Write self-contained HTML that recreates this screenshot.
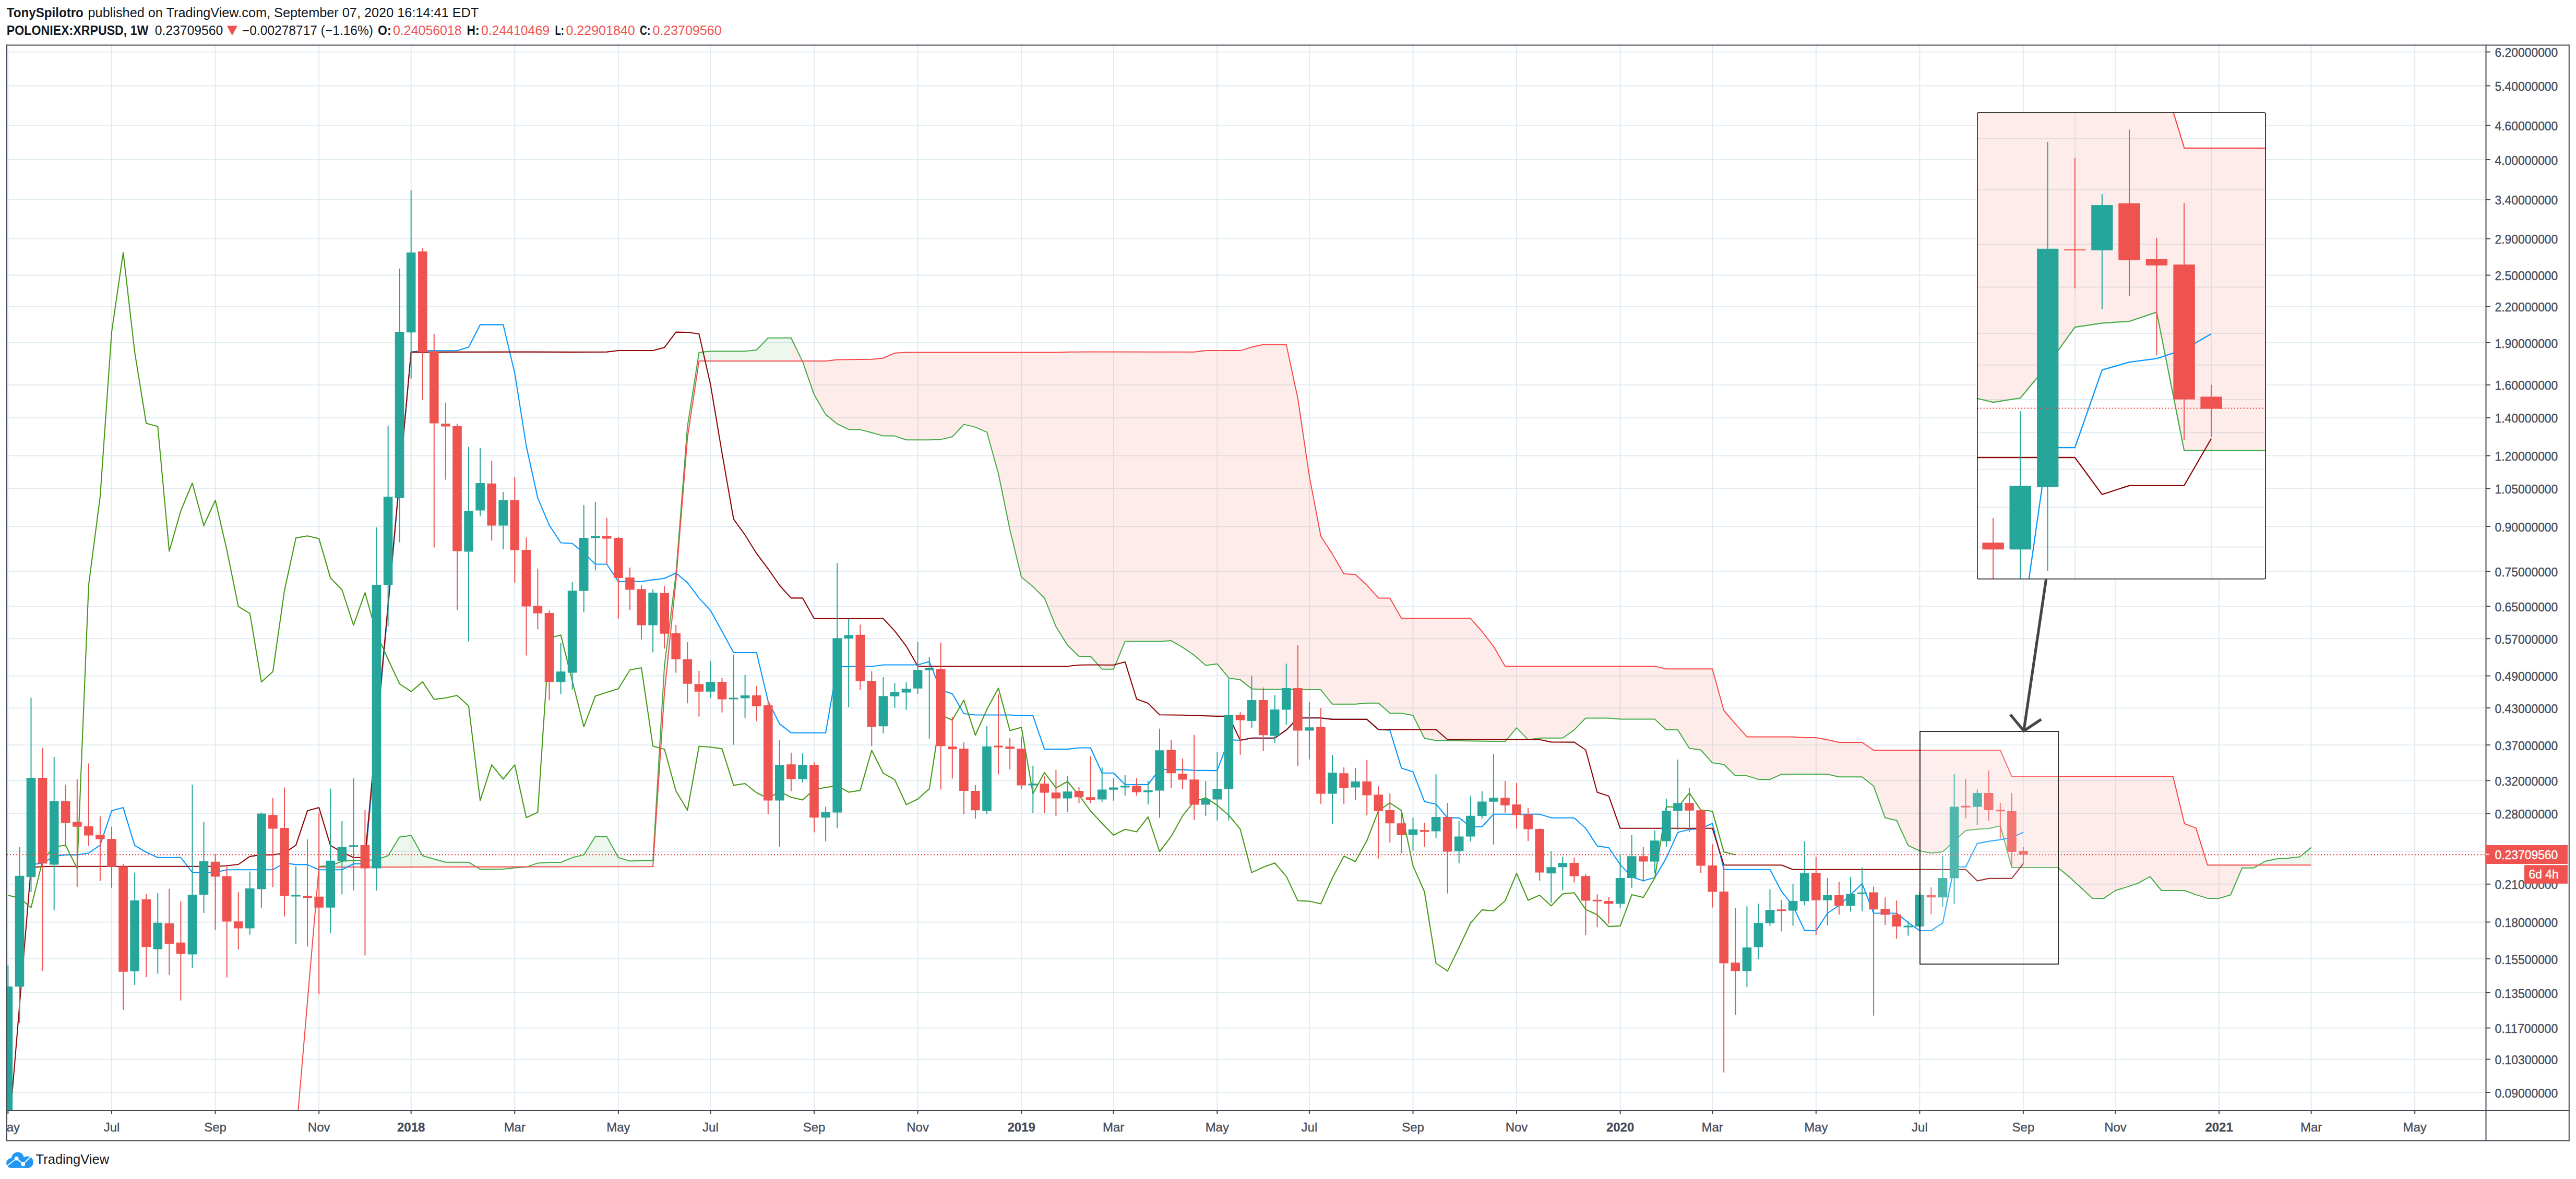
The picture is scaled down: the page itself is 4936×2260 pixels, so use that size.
<!DOCTYPE html>
<html><head><meta charset="utf-8"><title>XRPUSD chart</title>
<style>html,body{margin:0;padding:0;background:#fff}svg{display:block}</style></head>
<body><svg width="4936" height="2260" viewBox="0 0 4936 2260">
<rect width="4936" height="2260" fill="#fff"/>
<path d="M13 99.5H4763.5M13 164.6H4763.5M13 240.2H4763.5M13 306.0H4763.5M13 382.6H4763.5M13 457.6H4763.5M13 527.5H4763.5M13 587.8H4763.5M13 656.9H4763.5M13 737.8H4763.5M13 800.8H4763.5M13 873.4H4763.5M13 936.3H4763.5M13 1009.0H4763.5M13 1094.9H4763.5M13 1162.3H4763.5M13 1224.2H4763.5M13 1295.5H4763.5M13 1357.1H4763.5M13 1427.9H4763.5M13 1496.3H4763.5M13 1559.2H4763.5M13 1631.9H4763.5M13 1694.8H4763.5M13 1767.5H4763.5M13 1837.9H4763.5M13 1903.0H4763.5M13 1970.5H4763.5M13 2030.5H4763.5M13 2094.1H4763.5M15.4 86.5V2129M214.0 86.5V2129M412.6 86.5V2129M611.2 86.5V2129M787.7 86.5V2129M986.3 86.5V2129M1184.9 86.5V2129M1361.4 86.5V2129M1560.0 86.5V2129M1758.6 86.5V2129M1957.2 86.5V2129M2133.7 86.5V2129M2332.3 86.5V2129M2508.9 86.5V2129M2707.5 86.5V2129M2906.0 86.5V2129M3104.6 86.5V2129M3281.2 86.5V2129M3479.8 86.5V2129M3678.4 86.5V2129M3876.9 86.5V2129M4053.5 86.5V2129M4252.1 86.5V2129M4428.6 86.5V2129M4627.2 86.5V2129" stroke="#e1ecf2" stroke-width="2" fill="none"/>
<clipPath id="cp"><rect x="14" y="87.5" width="4749" height="2041"/></clipPath>
<g clip-path="url(#cp)">
<polygon points="611.2,1660.8 633.2,1659.5 655.3,1651.0 677.4,1649.3 699.4,1649.3 721.5,1648.0 743.6,1640.3 765.6,1604.4 787.7,1601.5 809.8,1640.3 831.8,1646.7 853.9,1652.7 876.0,1652.7 898.0,1652.7 898.0,1661.7 876.0,1661.7 853.9,1661.8 831.8,1661.8 809.8,1661.8 787.7,1661.9 765.6,1661.9 743.6,1661.9 721.5,1661.9 699.4,1662.0 677.4,1662.0 655.3,1662.0 633.2,1662.1 611.2,1662.1" fill="#4caf50" fill-opacity="0.1"/>
<polygon points="898.0,1652.7 920.1,1666.4 942.2,1666.1 964.2,1665.9 986.3,1663.4 1008.4,1662.1 1008.4,1661.6 986.3,1661.6 964.2,1661.6 942.2,1661.7 920.1,1661.7 898.0,1661.7" fill="#f44336" fill-opacity="0.1"/>
<polygon points="1008.4,1662.1 1030.4,1654.4 1052.5,1653.1 1074.6,1653.1 1096.6,1643.8 1118.7,1638.6 1140.8,1603.2 1162.8,1604.1 1184.9,1643.8 1207.0,1650.6 1229.0,1649.7 1251.1,1649.7 1273.2,1275.7 1295.2,1100.7 1317.3,817.2 1339.4,675.4 1361.4,673.3 1383.5,673.3 1405.6,673.3 1427.6,673.3 1449.7,670.8 1471.8,647.7 1493.8,647.7 1515.9,647.7 1515.9,692.1 1493.8,692.1 1471.8,692.1 1449.7,692.1 1427.6,692.1 1405.6,692.1 1383.5,692.1 1361.4,692.1 1339.4,692.1 1317.3,838.6 1295.2,1113.5 1273.2,1327.4 1251.1,1661.3 1229.0,1661.3 1207.0,1661.3 1184.9,1661.4 1162.8,1661.4 1140.8,1661.4 1118.7,1661.4 1096.6,1661.5 1074.6,1661.5 1052.5,1661.5 1030.4,1661.6 1008.4,1661.6" fill="#4caf50" fill-opacity="0.1"/>
<polygon points="1515.9,647.7 1538.0,693.4 1560.0,756.6 1582.1,794.6 1604.2,812.5 1626.2,823.2 1648.3,823.6 1670.3,829.2 1692.4,835.6 1714.5,835.6 1736.5,843.3 1758.6,843.3 1780.7,843.3 1802.7,842.4 1824.8,837.3 1846.9,813.4 1868.9,818.9 1891.0,828.3 1913.1,907.7 1935.1,1015.3 1957.2,1106.2 1979.3,1124.6 2001.3,1146.4 2023.4,1201.2 2045.5,1236.7 2067.5,1258.0 2089.6,1258.0 2111.7,1282.8 2133.7,1282.8 2155.8,1229.4 2177.9,1229.4 2199.9,1229.4 2222.0,1229.4 2244.1,1228.1 2266.1,1240.9 2288.2,1255.9 2310.3,1275.5 2332.3,1272.5 2354.4,1299.4 2376.5,1302.9 2398.5,1320.4 2420.6,1321.6 2442.7,1321.6 2464.7,1321.6 2486.8,1321.9 2508.9,1322.1 2530.9,1322.1 2553.0,1349.8 2575.1,1349.8 2597.1,1349.8 2619.2,1347.7 2641.3,1347.7 2663.3,1366.9 2685.4,1367.3 2707.5,1371.2 2729.5,1415.2 2751.6,1419.4 2773.7,1419.7 2795.7,1420.1 2817.8,1420.4 2839.8,1420.7 2861.9,1421.1 2884.0,1421.6 2906.0,1395.1 2928.1,1418.1 2950.2,1414.7 2972.2,1414.7 2994.3,1414.7 3016.4,1399.1 3038.4,1376.5 3060.5,1376.5 3082.6,1376.5 3104.6,1378.6 3126.7,1378.6 3148.8,1378.6 3170.8,1378.6 3192.9,1399.1 3215.0,1399.1 3237.0,1434.5 3259.1,1437.5 3281.2,1462.3 3303.2,1465.3 3325.3,1487.1 3347.4,1487.1 3369.4,1493.9 3391.5,1493.9 3413.6,1484.1 3435.6,1484.1 3457.7,1484.1 3479.8,1484.1 3501.8,1484.1 3523.9,1489.2 3546.0,1489.2 3568.0,1489.2 3590.1,1506.7 3612.2,1567.8 3634.2,1572.5 3656.3,1620.7 3678.4,1631.0 3700.4,1635.2 3722.5,1632.7 3744.6,1612.6 3766.6,1592.1 3788.7,1589.5 3810.8,1588.3 3832.8,1583.1 3854.9,1663.0 3876.9,1663.0 3899.0,1663.0 3921.1,1663.0 3943.1,1663.0 3965.2,1680.9 3987.3,1701.4 4009.3,1721.9 4031.4,1721.9 4053.5,1707.0 4075.5,1700.1 4097.6,1692.9 4119.7,1680.1 4141.7,1707.0 4163.8,1707.0 4185.9,1707.0 4207.9,1715.1 4230.0,1721.9 4252.1,1721.9 4274.1,1715.5 4296.2,1663.8 4318.3,1663.8 4318.3,1658.3 4296.2,1658.3 4274.1,1658.3 4252.1,1658.3 4230.0,1658.3 4207.9,1587.4 4185.9,1578.9 4163.8,1488.3 4141.7,1488.3 4119.7,1488.3 4097.6,1488.3 4075.5,1488.3 4053.5,1488.3 4031.4,1488.3 4009.3,1488.3 3987.3,1488.3 3965.2,1488.3 3943.1,1488.3 3921.1,1488.3 3899.0,1488.3 3876.9,1488.3 3854.9,1488.3 3832.8,1438.0 3810.8,1438.0 3788.7,1438.0 3766.6,1438.0 3744.6,1438.0 3722.5,1438.0 3700.4,1438.0 3678.4,1438.0 3656.3,1438.0 3634.2,1438.0 3612.2,1438.0 3590.1,1438.0 3568.0,1423.0 3546.0,1423.0 3523.9,1423.0 3501.8,1418.0 3479.8,1414.0 3457.7,1414.0 3435.6,1412.4 3413.6,1412.4 3391.5,1412.4 3369.4,1412.4 3347.4,1412.4 3325.3,1387.7 3303.2,1362.0 3281.2,1282.2 3259.1,1282.2 3237.0,1282.2 3215.0,1282.2 3192.9,1282.2 3170.8,1277.1 3148.8,1277.1 3126.7,1277.1 3104.6,1277.1 3082.6,1277.1 3060.5,1277.1 3038.4,1277.1 3016.4,1277.1 2994.3,1277.1 2972.2,1277.1 2950.2,1277.1 2928.1,1277.1 2906.0,1277.1 2884.0,1277.1 2861.9,1239.1 2839.8,1210.5 2817.8,1185.3 2795.7,1185.3 2773.7,1185.3 2751.6,1185.3 2729.5,1185.3 2707.5,1185.3 2685.4,1185.3 2663.3,1146.4 2641.3,1146.4 2619.2,1121.6 2597.1,1101.2 2575.1,1099.9 2553.0,1061.9 2530.9,1027.7 2508.9,912.9 2486.8,763.5 2464.7,660.6 2442.7,660.6 2420.6,660.6 2398.5,665.3 2376.5,672.1 2354.4,672.1 2332.3,672.1 2310.3,672.1 2288.2,674.7 2266.1,674.7 2244.1,674.7 2222.0,674.7 2199.9,674.6 2177.9,674.6 2155.8,674.6 2133.7,674.6 2111.7,674.6 2089.6,674.6 2067.5,674.6 2045.5,674.7 2023.4,675.5 2001.3,675.5 1979.3,675.5 1957.2,675.5 1935.1,675.5 1913.1,675.5 1891.0,675.5 1868.9,675.5 1846.9,675.5 1824.8,675.5 1802.7,675.5 1780.7,675.5 1758.6,675.5 1736.5,675.4 1714.5,676.7 1692.4,686.5 1670.3,688.7 1648.3,689.1 1626.2,689.3 1604.2,689.5 1582.1,692.1 1560.0,692.1 1538.0,692.1 1515.9,692.1" fill="#f44336" fill-opacity="0.1"/>
<polygon points="4318.3,1663.8 4340.3,1651.0 4362.4,1646.3 4384.5,1645.0 4406.5,1642.5 4428.6,1624.6 4428.6,1658.3 4406.5,1658.3 4384.5,1658.3 4362.4,1658.3 4340.3,1658.3 4318.3,1658.3" fill="#4caf50" fill-opacity="0.1"/>
<polyline points="611.2,1660.8 633.2,1659.5 655.3,1651.0 677.4,1649.3 699.4,1649.3 721.5,1648.0 743.6,1640.3 765.6,1604.4 787.7,1601.5 809.8,1640.3 831.8,1646.7 853.9,1652.7 898.0,1652.7 920.1,1666.4 964.2,1665.9 986.3,1663.4 1008.4,1662.1 1030.4,1654.4 1052.5,1653.1 1074.6,1653.1 1096.6,1643.8 1118.7,1638.6 1140.8,1603.2 1162.8,1604.1 1184.9,1643.8 1207.0,1650.6 1229.0,1649.7 1251.1,1649.7 1273.2,1275.7 1295.2,1100.7 1317.3,817.2 1339.4,675.4 1361.4,673.3 1427.6,673.3 1449.7,670.8 1471.8,647.7 1515.9,647.7 1538.0,693.4 1560.0,756.6 1582.1,794.6 1604.2,812.5 1626.2,823.2 1648.3,823.6 1670.3,829.2 1692.4,835.6 1714.5,835.6 1736.5,843.3 1780.7,843.3 1802.7,842.4 1824.8,837.3 1846.9,813.4 1868.9,818.9 1891.0,828.3 1913.1,907.7 1935.1,1015.3 1957.2,1106.2 1979.3,1124.6 2001.3,1146.4 2023.4,1201.2 2045.5,1236.7 2067.5,1258.0 2089.6,1258.0 2111.7,1282.8 2133.7,1282.8 2155.8,1229.4 2222.0,1229.4 2244.1,1228.1 2266.1,1240.9 2288.2,1255.9 2310.3,1275.5 2332.3,1272.5 2354.4,1299.4 2376.5,1302.9 2398.5,1320.4 2420.6,1321.6 2464.7,1321.6 2508.9,1322.1 2530.9,1322.1 2553.0,1349.8 2597.1,1349.8 2619.2,1347.7 2641.3,1347.7 2663.3,1366.9 2685.4,1367.3 2707.5,1371.2 2729.5,1415.2 2751.6,1419.4 2839.8,1420.7 2884.0,1421.6 2906.0,1395.1 2928.1,1418.1 2950.2,1414.7 2994.3,1414.7 3016.4,1399.1 3038.4,1376.5 3082.6,1376.5 3104.6,1378.6 3170.8,1378.6 3192.9,1399.1 3215.0,1399.1 3237.0,1434.5 3259.1,1437.5 3281.2,1462.3 3303.2,1465.3 3325.3,1487.1 3347.4,1487.1 3369.4,1493.9 3391.5,1493.9 3413.6,1484.1 3501.8,1484.1 3523.9,1489.2 3568.0,1489.2 3590.1,1506.7 3612.2,1567.8 3634.2,1572.5 3656.3,1620.7 3678.4,1631.0 3700.4,1635.2 3722.5,1632.7 3744.6,1612.6 3766.6,1592.1 3788.7,1589.5 3810.8,1588.3 3832.8,1583.1 3854.9,1663.0 3943.1,1663.0 3965.2,1680.9 3987.3,1701.4 4009.3,1721.9 4031.4,1721.9 4053.5,1707.0 4075.5,1700.1 4097.6,1692.9 4119.7,1680.1 4141.7,1707.0 4185.9,1707.0 4207.9,1715.1 4230.0,1721.9 4252.1,1721.9 4274.1,1715.5 4296.2,1663.8 4318.3,1663.8 4340.3,1651.0 4362.4,1646.3 4384.5,1645.0 4406.5,1642.5 4428.6,1624.6" fill="none" stroke="#42aa46" stroke-width="2" stroke-linejoin="round"/>
<polyline points="567.0,2179.0 611.2,1662.1 1251.1,1661.3 1273.2,1327.4 1295.2,1113.5 1317.3,838.6 1339.4,692.1 1582.1,692.1 1604.2,689.5 1648.3,689.1 1670.3,688.7 1692.4,686.5 1714.5,676.7 1736.5,675.4 2023.4,675.5 2045.5,674.7 2089.6,674.6 2288.2,674.7 2310.3,672.1 2376.5,672.1 2398.5,665.3 2420.6,660.6 2464.7,660.6 2486.8,763.5 2508.9,912.9 2530.9,1027.7 2553.0,1061.9 2575.1,1099.9 2597.1,1101.2 2619.2,1121.6 2641.3,1146.4 2663.3,1146.4 2685.4,1185.3 2817.8,1185.3 2839.8,1210.5 2861.9,1239.1 2884.0,1277.1 3170.8,1277.1 3192.9,1282.2 3281.2,1282.2 3303.2,1362.0 3325.3,1387.7 3347.4,1412.4 3435.6,1412.4 3457.7,1414.0 3479.8,1414.0 3501.8,1418.0 3523.9,1423.0 3568.0,1423.0 3590.1,1438.0 3832.8,1438.0 3854.9,1488.3 4163.8,1488.3 4185.9,1578.9 4207.9,1587.4 4230.0,1658.3 4428.6,1658.3" fill="none" stroke="#f84848" stroke-width="2" stroke-linejoin="round"/>
<polyline points="59.5,1657.8 81.6,1654.4 103.7,1641.6 125.7,1638.6 147.8,1638.6 169.9,1635.2 191.9,1620.2 214.0,1554.1 236.1,1548.1 258.1,1620.7 280.2,1633.5 302.3,1643.7 346.4,1643.7 368.5,1672.3 412.6,1672.3 434.7,1667.2 522.9,1667.2 545.0,1654.4 567.0,1657.4 589.1,1657.4 611.2,1667.2 655.3,1667.2 677.4,1655.7 699.4,1655.7 787.7,674.9 809.8,672.3 876.0,672.3 898.0,665.5 920.1,622.4 964.2,622.4 986.3,715.0 1008.4,854.7 1030.4,954.7 1052.5,1006.7 1074.6,1040.5 1096.6,1041.8 1118.7,1060.1 1140.8,1081.5 1162.8,1081.5 1184.9,1114.8 1229.0,1114.8 1251.1,1111.4 1273.2,1108.8 1295.2,1098.5 1317.3,1116.9 1339.4,1146.4 1361.4,1170.3 1383.5,1210.0 1405.6,1251.0 1449.7,1251.0 1471.8,1344.1 1493.8,1387.6 1515.9,1404.7 1582.1,1404.7 1604.2,1277.5 1670.3,1277.5 1692.4,1274.5 1758.6,1274.5 1780.7,1268.1 1802.7,1322.7 1824.8,1330.0 1846.9,1368.0 1868.9,1370.5 1935.1,1370.5 1957.2,1371.8 1979.3,1371.8 2001.3,1436.1 2045.5,1436.1 2067.5,1433.5 2089.6,1433.5 2111.7,1481.8 2133.7,1481.8 2155.8,1504.0 2199.9,1504.0 2222.0,1474.5 2244.1,1475.4 2266.1,1475.4 2288.2,1476.6 2332.3,1477.1 2354.4,1418.1 2376.5,1419.0 2398.5,1414.7 2442.7,1414.7 2464.7,1399.4 2486.8,1376.3 2530.9,1376.3 2553.0,1378.9 2619.2,1378.9 2641.3,1398.5 2663.3,1399.8 2685.4,1472.4 2707.5,1479.6 2729.5,1536.4 2751.6,1541.5 2773.7,1567.6 2795.7,1567.6 2817.8,1584.7 2839.8,1584.7 2861.9,1560.8 2950.2,1560.8 2972.2,1567.6 3016.4,1567.8 3038.4,1587.8 3060.5,1621.6 3082.6,1625.0 3104.6,1657.4 3126.7,1680.9 3148.8,1688.2 3170.8,1682.2 3192.9,1644.6 3215.0,1595.5 3237.0,1590.0 3259.1,1588.3 3281.2,1578.4 3303.2,1666.8 3391.5,1666.8 3413.6,1708.7 3435.6,1736.4 3457.7,1783.4 3479.8,1784.2 3501.8,1750.5 3523.9,1735.6 3546.0,1715.1 3568.0,1693.7 3590.1,1750.5 3634.2,1750.5 3656.3,1768.4 3678.4,1783.8 3700.4,1783.8 3722.5,1769.3 3744.6,1661.7 3766.6,1661.7 3788.7,1616.9 3810.8,1612.6 3832.8,1609.6 3854.9,1605.3 3876.9,1595.5" fill="none" stroke="#0496ff" stroke-width="2.1" stroke-linejoin="round"/>
<polyline points="15.4,2191.0 59.5,1663.0 81.6,1661.0 103.7,1660.8 412.6,1660.8 434.7,1659.5 456.7,1657.0 478.8,1641.6 500.9,1638.6 522.9,1638.6 545.0,1635.2 567.0,1620.2 589.1,1554.1 611.2,1548.1 633.2,1620.7 655.3,1633.5 677.4,1643.7 699.4,1643.7 787.7,674.9 1008.4,674.6 1096.6,674.9 1162.8,674.6 1184.9,672.0 1251.1,672.0 1273.2,666.1 1295.2,636.6 1317.3,637.0 1339.4,640.0 1361.4,736.9 1383.5,868.4 1405.6,994.8 1427.6,1025.5 1449.7,1061.0 1471.8,1090.4 1493.8,1122.0 1515.9,1146.4 1538.0,1146.4 1560.0,1185.7 1692.4,1185.7 1714.5,1209.6 1736.5,1238.6 1758.6,1277.0 2001.3,1277.2 2045.5,1277.2 2067.5,1274.7 2089.6,1274.5 2133.7,1274.7 2155.8,1268.7 2177.9,1340.0 2199.9,1348.1 2222.0,1370.3 2266.1,1370.8 2332.3,1372.9 2354.4,1372.9 2376.5,1419.0 2398.5,1414.7 2442.7,1414.7 2464.7,1399.4 2486.8,1376.3 2530.9,1376.3 2553.0,1378.9 2619.2,1378.9 2641.3,1398.5 2751.6,1398.5 2773.7,1417.7 2950.2,1417.7 2972.2,1422.4 3016.4,1422.6 3038.4,1437.5 3060.5,1518.7 3082.6,1525.9 3104.6,1587.8 3281.2,1587.8 3303.2,1658.3 3413.6,1658.3 3435.6,1666.8 3766.6,1666.8 3788.7,1688.6 3810.8,1683.9 3854.9,1683.9 3876.9,1655.3" fill="none" stroke="#8e0505" stroke-width="2.1" stroke-linejoin="round"/>
<polyline points="15.4,1716.2 37.5,1721.3 59.5,1739.7 81.6,1649.7 103.7,1623.2 125.7,1620.2 147.8,1664.6 169.9,1121.1 191.9,952.0 214.0,636.0 236.1,484.0 258.1,674.9 280.2,811.5 302.3,817.5 324.3,1056.6 346.4,979.3 368.5,926.0 390.5,1007.5 412.6,958.8 434.7,1054.5 456.7,1162.6 478.8,1175.8 500.9,1307.3 522.9,1287.3 545.0,1132.3 567.0,1031.1 589.1,1027.2 611.2,1032.4 633.2,1107.9 655.3,1130.6 677.4,1198.5 699.4,1136.1 721.5,1214.7 743.6,1263.8 765.6,1310.8 787.7,1325.7 809.8,1306.9 831.8,1340.6 853.9,1337.7 876.0,1333.0 898.0,1353.4 920.1,1534.5 942.2,1466.1 964.2,1493.5 986.3,1466.1 1008.4,1567.3 1030.4,1557.1 1052.5,1223.2 1074.6,1217.3 1096.6,1305.6 1118.7,1393.1 1140.8,1334.2 1162.8,1327.0 1184.9,1320.2 1207.0,1284.3 1229.0,1280.0 1251.1,1430.3 1273.2,1436.3 1295.2,1516.1 1317.3,1553.2 1339.4,1430.7 1361.4,1432.0 1383.5,1435.4 1405.6,1505.4 1427.6,1502.0 1449.7,1519.5 1471.8,1530.4 1493.8,1517.2 1515.9,1528.3 1538.0,1533.4 1560.0,1513.4 1582.1,1509.5 1604.2,1506.1 1626.2,1518.5 1648.3,1515.1 1670.3,1438.2 1692.4,1482.2 1714.5,1494.6 1736.5,1542.4 1758.6,1531.7 1780.7,1512.1 1802.7,1370.3 1824.8,1380.6 1846.9,1342.1 1868.9,1409.2 1891.0,1360.1 1913.1,1319.1 1935.1,1400.6 1957.2,1394.2 1979.3,1521.5 2001.3,1480.9 2023.4,1510.4 2045.5,1498.0 2067.5,1524.5 2089.6,1554.4 2111.7,1578.3 2133.7,1600.9 2155.8,1589.8 2177.9,1594.5 2199.9,1565.9 2222.0,1632.5 2244.1,1603.4 2266.1,1563.7 2288.2,1536.4 2310.3,1529.2 2332.3,1543.7 2354.4,1562.5 2376.5,1589.4 2398.5,1672.6 2420.6,1662.3 2442.7,1654.2 2464.7,1679.6 2486.8,1726.6 2508.9,1727.5 2530.9,1732.6 2553.0,1683.0 2575.1,1641.2 2597.1,1651.5 2619.2,1611.3 2641.3,1554.1 2663.3,1539.2 2685.4,1553.7 2707.5,1659.6 2729.5,1709.5 2751.6,1846.5 2773.7,1861.4 2795.7,1816.2 2817.8,1769.3 2839.8,1744.1 2861.9,1745.8 2884.0,1727.0 2906.0,1674.1 2928.1,1725.7 2950.2,1715.9 2972.2,1736.4 2994.3,1713.4 3016.4,1711.2 3038.4,1743.3 3060.5,1753.5 3082.6,1776.1 3104.6,1774.9 3126.7,1715.1 3148.8,1720.2 3170.8,1683.0 3192.9,1546.4 3215.0,1547.3 3237.0,1519.9 3259.1,1552.8 3281.2,1555.0 3303.2,1633.1 3325.3,1638.6" fill="none" stroke="#459915" stroke-width="2.1" stroke-linejoin="round"/>
<path d="M15.4 1850.3V2129.0M37.5 1623.2V1961.3M59.5 1337.6V1709.9M103.7 1450.7V1745.3M258.1 1672.8V1887.9M302.3 1712.0V1866.5M368.5 1504.1V1855.8M390.5 1575.0V1750.0M478.8 1670.6V1791.8M500.9 1557.5V1739.7M567.0 1660.8V1809.7M633.2 1511.8V1788.8M655.3 1573.7V1714.6M677.4 1492.1V1706.9M721.5 1010.9V1706.9M743.6 816.2V1200.5M765.6 514.8V1039.5M787.7 364.9V725.7M898.0 856.8V1229.5M920.1 858.9V989.6M964.2 943.0V1052.8M1074.6 1233.0V1330.4M1096.6 1116.1V1321.9M1118.7 967.9V1173.7M1140.8 961.9V1093.4M1251.1 1129.7V1250.6M1361.4 1267.6V1337.7M1405.6 1254.8V1427.7M1427.6 1293.7V1376.5M1493.8 1418.7V1623.3M1538.0 1443.9V1499.9M1582.1 1546.8V1612.6M1604.2 1079.3V1587.8M1626.2 1186.1V1355.6M1692.4 1298.0V1405.5M1714.5 1309.1V1356.8M1736.5 1307.8V1360.7M1758.6 1230.1V1330.0M1780.7 1259.1V1415.8M1891.0 1391.4V1560.5M1979.3 1467.8V1557.9M2045.5 1486.9V1556.9M2111.7 1471.1V1536.8M2133.7 1491.6V1534.7M2155.8 1486.0V1524.9M2199.9 1497.1V1542.0M2222.0 1396.8V1567.6M2310.3 1497.1V1563.7M2332.3 1442.1V1572.7M2354.4 1300.7V1572.7M2398.5 1295.2V1395.9M2442.7 1332.3V1424.6M2464.7 1272.1V1389.1M2508.9 1346.0V1455.7M2553.0 1447.2V1580.0M2597.1 1471.9V1533.0M2707.5 1567.2V1630.7M2751.6 1484.3V1606.8M2795.7 1574.0V1654.7M2817.8 1526.2V1612.8M2839.8 1516.8V1569.3M2861.9 1445.5V1618.8M2972.2 1632.0V1730.2M2994.3 1641.8V1706.7M3104.6 1638.2V1741.1M3126.7 1601.1V1702.3M3170.8 1592.1V1673.2M3192.9 1531.0V1623.3M3215.0 1455.9V1591.2M3347.4 1737.3V1891.8M3369.4 1732.2V1838.8M3391.5 1704.4V1774.8M3435.6 1695.0V1774.4M3457.7 1612.2V1735.6M3501.8 1683.0V1773.6M3546.0 1680.9V1747.5M3568.0 1663.0V1747.1M3656.3 1766.3V1793.6M3678.4 1708.7V1781.3M3722.5 1640.4V1738.6M3744.6 1484.1V1732.6M3788.7 1513.5V1581.4" stroke="#26a69a" stroke-width="2" fill="none"/>
<path d="M81.6 1433.6V1861.0M125.7 1504.1V1622.4M147.8 1493.4V1700.1M169.9 1463.5V1621.5M191.9 1564.7V1689.0M214.0 1584.8V1701.8M236.1 1655.7V1935.7M280.2 1714.1V1872.9M324.3 1703.8V1868.7M346.4 1727.8V1917.8M412.6 1637.3V1782.8M434.7 1660.8V1873.8M456.7 1709.8V1820.0M522.9 1528.9V1700.5M545.0 1509.6V1756.8M589.1 1609.1V1814.4M611.2 1557.5V1905.8M699.4 1552.8V1831.5M809.8 475.9V766.7M831.8 639.9V1049.4M853.9 771.8V919.6M876.0 812.0V1169.3M942.2 883.3V1036.5M986.3 914.0V1116.8M1008.4 1030.2V1256.5M1030.4 1090.0V1206.6M1052.5 1169.9V1342.4M1162.8 992.7V1081.5M1184.9 1028.9V1185.7M1207.0 1087.9V1169.0M1229.0 1122.0V1225.8M1273.2 1122.9V1243.3M1295.2 1198.0V1289.4M1317.3 1230.9V1348.3M1339.4 1286.0V1373.5M1383.5 1299.2V1365.8M1449.7 1315.0V1382.5M1471.8 1344.1V1560.5M1515.9 1442.7V1516.5M1560.0 1461.0V1595.5M1648.3 1197.2V1322.7M1670.3 1286.8V1430.3M1802.7 1231.8V1513.5M1824.8 1374.3V1492.6M1846.9 1423.0V1560.5M1868.9 1505.0V1569.5M1913.1 1331.3V1484.5M1935.1 1414.0V1474.7M1957.2 1412.3V1512.3M2001.3 1487.9V1557.9M2023.4 1475.8V1564.2M2067.5 1509.1V1539.4M2089.6 1449.3V1539.4M2177.9 1491.6V1524.9M2244.1 1419.0V1510.8M2266.1 1454.0V1512.9M2288.2 1408.8V1571.9M2376.5 1365.2V1446.8M2420.6 1317.8V1439.9M2486.8 1237.1V1469.0M2530.9 1357.1V1540.7M2575.1 1471.1V1541.5M2619.2 1456.6V1562.9M2641.3 1507.0V1645.7M2663.3 1521.1V1614.9M2685.4 1552.6V1635.9M2729.5 1577.0V1623.5M2773.7 1539.0V1712.7M2884.0 1497.1V1557.8M2906.0 1501.0V1588.5M2928.1 1549.2V1612.0M2950.2 1587.7V1688.0M3016.4 1643.8V1691.6M3038.4 1675.8V1791.9M3060.5 1714.2V1777.4M3082.6 1719.3V1770.6M3148.8 1623.3V1690.3M3237.0 1510.1V1594.2M3259.1 1550.7V1673.2M3281.2 1618.1V1739.4M3303.2 1661.7V2055.7M3325.3 1740.7V1945.6M3413.6 1725.3V1785.5M3479.8 1642.5V1791.9M3523.9 1690.3V1753.5M3590.1 1699.3V1946.8M3612.2 1720.2V1772.7M3634.2 1726.2V1799.6M3700.4 1701.0V1752.6M3766.6 1493.0V1568.6M3810.8 1476.8V1573.3M3832.8 1539.2V1607.5M3854.9 1519.9V1660.8M3876.9 1624.1V1656.6" stroke="#ef5350" stroke-width="2" fill="none"/>
<path d="M6.6 1890.9h17.6V2129.0h-17.6zM28.7 1678.7h17.6V1891.3h-17.6zM50.7 1490.9h17.6V1681.3h-17.6zM94.9 1535.7h17.6V1657.4h-17.6zM249.3 1726.0h17.6V1861.8h-17.6zM293.5 1768.7h17.6V1819.6h-17.6zM359.7 1714.9h17.6V1829.4h-17.6zM381.7 1651.0h17.6V1714.9h-17.6zM470.0 1703.0h17.6V1779.4h-17.6zM492.1 1559.6h17.6V1704.4h-17.6zM558.2 1715.6h17.6V1718.6h-17.6zM624.4 1649.7h17.6V1739.7h-17.6zM646.5 1623.2h17.6V1651.0h-17.6zM668.6 1620.2h17.6V1623.2h-17.6zM712.7 1121.1h17.6V1664.6h-17.6zM734.8 952.0h17.6V1121.1h-17.6zM756.8 636.0h17.6V954.6h-17.6zM778.9 484.0h17.6V637.3h-17.6zM889.2 979.3h17.6V1057.5h-17.6zM911.3 926.0h17.6V978.5h-17.6zM955.4 958.8h17.6V1007.5h-17.6zM1065.8 1287.3h17.6V1307.3h-17.6zM1087.8 1132.3h17.6V1289.4h-17.6zM1109.9 1031.1h17.6V1132.7h-17.6zM1132.0 1027.2h17.6V1031.5h-17.6zM1242.3 1136.1h17.6V1198.5h-17.6zM1352.6 1306.9h17.6V1325.7h-17.6zM1396.8 1337.4h17.6V1340.4h-17.6zM1418.8 1333.0h17.6V1338.5h-17.6zM1485.0 1466.1h17.6V1534.5h-17.6zM1529.2 1466.1h17.6V1493.5h-17.6zM1573.3 1557.1h17.6V1567.3h-17.6zM1595.4 1223.2h17.6V1557.5h-17.6zM1617.4 1217.3h17.6V1224.1h-17.6zM1683.6 1334.2h17.6V1392.3h-17.6zM1705.7 1327.0h17.6V1334.7h-17.6zM1727.7 1320.2h17.6V1327.4h-17.6zM1749.8 1284.3h17.6V1319.7h-17.6zM1771.9 1280.0h17.6V1284.7h-17.6zM1882.2 1430.7h17.6V1554.5h-17.6zM1970.5 1502.0h17.6V1505.4h-17.6zM2036.7 1517.2h17.6V1530.4h-17.6zM2102.9 1513.4h17.6V1532.6h-17.6zM2124.9 1509.5h17.6V1513.8h-17.6zM2147.0 1506.1h17.6V1509.5h-17.6zM2191.1 1515.1h17.6V1518.5h-17.6zM2213.2 1438.2h17.6V1515.5h-17.6zM2301.5 1531.7h17.6V1542.4h-17.6zM2323.5 1512.1h17.6V1532.6h-17.6zM2345.6 1370.3h17.6V1512.5h-17.6zM2389.7 1342.1h17.6V1381.9h-17.6zM2433.9 1360.1h17.6V1410.5h-17.6zM2455.9 1319.1h17.6V1360.5h-17.6zM2500.1 1394.2h17.6V1400.6h-17.6zM2544.2 1480.9h17.6V1521.5h-17.6zM2588.3 1498.0h17.6V1509.5h-17.6zM2698.7 1589.8h17.6V1600.5h-17.6zM2742.8 1565.9h17.6V1593.6h-17.6zM2786.9 1603.4h17.6V1631.6h-17.6zM2809.0 1563.7h17.6V1603.4h-17.6zM2831.0 1536.4h17.6V1564.2h-17.6zM2853.1 1529.2h17.6V1536.8h-17.6zM2963.4 1662.3h17.6V1674.3h-17.6zM2985.5 1654.2h17.6V1662.3h-17.6zM3095.8 1683.0h17.6V1732.6h-17.6zM3117.9 1641.2h17.6V1683.0h-17.6zM3162.0 1611.3h17.6V1651.5h-17.6zM3184.1 1554.1h17.6V1612.6h-17.6zM3206.2 1539.2h17.6V1554.5h-17.6zM3338.6 1816.2h17.6V1861.4h-17.6zM3360.6 1769.3h17.6V1815.4h-17.6zM3382.7 1744.1h17.6V1769.7h-17.6zM3426.8 1727.0h17.6V1745.4h-17.6zM3448.9 1674.1h17.6V1727.5h-17.6zM3493.0 1715.9h17.6V1725.7h-17.6zM3537.2 1713.4h17.6V1736.4h-17.6zM3559.2 1710.8h17.6V1713.8h-17.6zM3647.5 1774.4h17.6V1777.4h-17.6zM3669.6 1715.1h17.6V1776.1h-17.6zM3713.7 1683.0h17.6V1720.2h-17.6zM3735.8 1546.4h17.6V1683.5h-17.6zM3779.9 1519.9h17.6V1546.4h-17.6z" fill="#26a69a"/>
<path d="M72.8 1490.9h17.6V1655.3h-17.6zM116.9 1535.7h17.6V1577.5h-17.6zM139.0 1575.4h17.6V1584.8h-17.6zM161.1 1583.9h17.6V1601.5h-17.6zM183.1 1600.2h17.6V1608.7h-17.6zM205.2 1607.9h17.6V1661.2h-17.6zM227.3 1660.8h17.6V1862.7h-17.6zM271.4 1723.9h17.6V1815.3h-17.6zM315.5 1770.0h17.6V1808.9h-17.6zM337.6 1806.7h17.6V1828.5h-17.6zM403.8 1651.8h17.6V1680.4h-17.6zM425.9 1679.6h17.6V1766.6h-17.6zM447.9 1766.2h17.6V1779.4h-17.6zM514.1 1562.2h17.6V1588.6h-17.6zM536.2 1586.9h17.6V1717.5h-17.6zM580.3 1717.1h17.6V1721.3h-17.6zM602.4 1718.8h17.6V1739.7h-17.6zM690.6 1619.8h17.6V1664.6h-17.6zM801.0 481.9h17.6V674.9h-17.6zM823.0 674.9h17.6V811.5h-17.6zM845.1 812.0h17.6V817.5h-17.6zM867.2 817.1h17.6V1056.6h-17.6zM933.4 926.8h17.6V1007.5h-17.6zM977.5 958.8h17.6V1054.5h-17.6zM999.6 1054.1h17.6V1162.6h-17.6zM1021.6 1161.3h17.6V1175.8h-17.6zM1043.7 1175.0h17.6V1307.3h-17.6zM1154.0 1027.2h17.6V1032.4h-17.6zM1176.1 1031.1h17.6V1107.9h-17.6zM1198.2 1107.1h17.6V1130.6h-17.6zM1220.2 1129.3h17.6V1198.5h-17.6zM1264.4 1137.0h17.6V1214.7h-17.6zM1286.4 1213.8h17.6V1263.8h-17.6zM1308.5 1263.4h17.6V1310.8h-17.6zM1330.6 1311.2h17.6V1325.7h-17.6zM1374.7 1306.9h17.6V1340.6h-17.6zM1440.9 1333.0h17.6V1353.4h-17.6zM1463.0 1352.1h17.6V1534.5h-17.6zM1507.1 1465.3h17.6V1493.5h-17.6zM1551.2 1466.1h17.6V1567.3h-17.6zM1639.5 1216.8h17.6V1305.6h-17.6zM1661.5 1305.2h17.6V1393.1h-17.6zM1793.9 1282.2h17.6V1430.3h-17.6zM1816.0 1431.1h17.6V1436.3h-17.6zM1838.1 1435.0h17.6V1516.1h-17.6zM1860.1 1516.1h17.6V1553.2h-17.6zM1904.3 1429.4h17.6V1432.4h-17.6zM1926.3 1431.1h17.6V1435.4h-17.6zM1948.4 1435.0h17.6V1505.4h-17.6zM1992.5 1502.0h17.6V1519.5h-17.6zM2014.6 1519.3h17.6V1530.4h-17.6zM2058.7 1515.9h17.6V1528.3h-17.6zM2080.8 1528.3h17.6V1533.4h-17.6zM2169.1 1506.1h17.6V1518.5h-17.6zM2235.3 1437.4h17.6V1482.2h-17.6zM2257.3 1483.0h17.6V1494.6h-17.6zM2279.4 1494.2h17.6V1542.4h-17.6zM2367.7 1370.3h17.6V1380.6h-17.6zM2411.8 1342.1h17.6V1409.2h-17.6zM2478.0 1319.1h17.6V1400.6h-17.6zM2522.1 1393.4h17.6V1521.5h-17.6zM2566.3 1482.2h17.6V1510.4h-17.6zM2610.4 1498.0h17.6V1524.5h-17.6zM2632.5 1523.2h17.6V1554.4h-17.6zM2654.5 1553.1h17.6V1578.3h-17.6zM2676.6 1578.3h17.6V1600.9h-17.6zM2720.7 1591.1h17.6V1594.5h-17.6zM2764.8 1565.9h17.6V1632.5h-17.6zM2875.2 1529.2h17.6V1543.7h-17.6zM2897.2 1542.0h17.6V1562.5h-17.6zM2919.3 1561.2h17.6V1589.4h-17.6zM2941.4 1588.9h17.6V1672.6h-17.6zM3007.6 1654.0h17.6V1679.6h-17.6zM3029.6 1679.2h17.6V1726.6h-17.6zM3051.7 1724.7h17.6V1727.7h-17.6zM3073.8 1727.0h17.6V1732.6h-17.6zM3140.0 1641.2h17.6V1651.5h-17.6zM3228.2 1539.2h17.6V1553.7h-17.6zM3250.3 1553.2h17.6V1659.6h-17.6zM3272.4 1659.1h17.6V1709.5h-17.6zM3294.4 1709.1h17.6V1846.5h-17.6zM3316.5 1845.2h17.6V1861.4h-17.6zM3404.8 1743.2h17.6V1746.2h-17.6zM3471.0 1673.2h17.6V1725.7h-17.6zM3515.1 1715.9h17.6V1736.4h-17.6zM3581.3 1710.4h17.6V1743.3h-17.6zM3603.4 1742.0h17.6V1753.5h-17.6zM3625.4 1753.1h17.6V1776.1h-17.6zM3691.6 1715.9h17.6V1720.2h-17.6zM3757.8 1544.7h17.6V1547.7h-17.6zM3802.0 1519.9h17.6V1552.8h-17.6zM3824.0 1552.2h17.6V1555.2h-17.6zM3846.1 1555.0h17.6V1633.1h-17.6zM3868.1 1631.0h17.6V1638.6h-17.6z" fill="#ef5350"/>
<path d="M13 1638.2H4763.5" stroke="#ef4444" stroke-width="2.2" stroke-dasharray="2 4"/>
</g>
<clipPath id="ic"><rect x="3788.8" y="215.9" width="552.0999999999995" height="893.8000000000001"/></clipPath>
<g clip-path="url(#ic)">
<rect x="3788.8" y="215.9" width="552.0999999999995" height="893.8000000000001" fill="#fff"/>
<path d="M3976.3 215.9V1109.7M4237.1 215.9V1109.7M3788.8 265.8H4340.9M3788.8 363.6H4340.9M3788.8 468.2H4340.9M3788.8 550.6H4340.9M3788.8 639.0H4340.9M3788.8 699.8H4340.9M3788.8 766.0H4340.9M3788.8 829.2H4340.9M3788.8 899.6H4340.9M3788.8 972.2H4340.9M3788.8 1048.6H4340.9" stroke="#e1ecf2" stroke-width="2" fill="none"/>
<polygon points="3788.8,215.9 4164.6,215.9 4185.5,283.8 4340.9,283.8 4340.9,863.3 4185.1,863.3 4132.5,598.4 4080.0,616.0 4027.9,619.4 3975.8,627.1 3923.7,699.8 3871.2,763.0 3819.1,771.1 3788.8,763.8" fill="#f44336" fill-opacity="0.1"/>
<polyline points="3788.8,763.8 3819.1,771.1 3871.2,763.0 3923.7,699.8 3975.8,627.1 4027.9,619.4 4080.0,616.0 4132.5,598.4 4185.1,863.3 4340.9,863.3" fill="none" stroke="#42aa46" stroke-width="2.2" stroke-linejoin="round"/>
<polyline points="4144.1,149.3 4164.6,215.9 4185.5,283.8 4340.9,283.8" fill="none" stroke="#f84848" stroke-width="2.2" stroke-linejoin="round"/>
<polyline points="3871.2,1226.3 3923.7,858.2 3975.8,858.2 4027.9,709.2 4080.0,694.2 4132.5,687.4 4185.1,669.9 4237.1,639.9" fill="none" stroke="#0496ff" stroke-width="2.3" stroke-linejoin="round"/>
<polyline points="3788.8,877.0 3975.8,877.0 4027.9,947.9 4080.0,930.8 4185.1,930.8 4237.1,840.7" fill="none" stroke="#8e0505" stroke-width="2.3" stroke-linejoin="round"/>
<path d="M3819.1 993.1V1109.7" stroke="#ef5350" stroke-width="2"/>
<path d="M3871.2 788.2V1109.7" stroke="#26a69a" stroke-width="2"/>
<path d="M3923.7 271.8V1094.3" stroke="#26a69a" stroke-width="2"/>
<path d="M3975.8 303.0V552.8" stroke="#ef5350" stroke-width="2"/>
<path d="M4027.9 372.1V592.9" stroke="#26a69a" stroke-width="2"/>
<path d="M4080.0 248.3V567.7" stroke="#ef5350" stroke-width="2"/>
<path d="M4132.5 455.8V681.4" stroke="#ef5350" stroke-width="2"/>
<path d="M4185.1 389.6V844.1" stroke="#ef5350" stroke-width="2"/>
<path d="M4237.1 737.4V837.7" stroke="#ef5350" stroke-width="2"/>
<rect x="3798.4" y="1040.1" width="41.4" height="13.2" fill="#ef5350"/>
<rect x="3850.5" y="931.2" width="41.4" height="122.1" fill="#26a69a"/>
<rect x="3903.0" y="476.8" width="41.4" height="457.0" fill="#26a69a"/>
<rect x="3955.1" y="478.0" width="41.4" height="2.0" fill="#ef5350"/>
<rect x="4007.2" y="393.1" width="41.4" height="86.7" fill="#26a69a"/>
<rect x="4059.3" y="389.6" width="41.4" height="108.9" fill="#ef5350"/>
<rect x="4111.8" y="496.0" width="41.4" height="12.8" fill="#ef5350"/>
<rect x="4164.4" y="507.1" width="41.4" height="258.5" fill="#ef5350"/>
<rect x="4216.4" y="760.4" width="41.4" height="23.1" fill="#ef5350"/>
<path d="M3788.8 782.6H4340.9" stroke="#ef4444" stroke-width="2.2" stroke-dasharray="2 4"/>
</g>
<rect x="3788.8" y="215.9" width="552.0999999999995" height="893.8000000000001" fill="none" stroke="#000" stroke-width="1.5" rx="2"/>
<rect x="3679" y="1402" width="265" height="446" fill="#fff" fill-opacity="0.2" stroke="#000" stroke-width="1.6"/>
<path d="M3920.7 1110L3878 1400M3852.1 1369.8L3878 1401L3911.2 1379" fill="none" stroke="#454545" stroke-width="5.2" stroke-linejoin="miter"/>
<path d="M13 86.5H4922.8V2186.5H13zM13 2129H4922.8M4763.5 86.5V2186.5" fill="none" stroke="#434651" stroke-width="2"/>
<path d="M4764 99.5h8M4764 164.6h8M4764 240.2h8M4764 306.0h8M4764 382.6h8M4764 457.6h8M4764 527.5h8M4764 587.8h8M4764 656.9h8M4764 737.8h8M4764 800.8h8M4764 873.4h8M4764 936.3h8M4764 1009.0h8M4764 1094.9h8M4764 1162.3h8M4764 1224.2h8M4764 1295.5h8M4764 1357.1h8M4764 1427.9h8M4764 1496.3h8M4764 1559.2h8M4764 1694.8h8M4764 1767.5h8M4764 1837.9h8M4764 1903.0h8M4764 1970.5h8M4764 2030.5h8M4764 2094.1h8M15.4 2129v6M214.0 2129v6M412.6 2129v6M611.2 2129v6M787.7 2129v6M986.3 2129v6M1184.9 2129v6M1361.4 2129v6M1560.0 2129v6M1758.6 2129v6M1957.2 2129v6M2133.7 2129v6M2332.3 2129v6M2508.9 2129v6M2707.5 2129v6M2906.0 2129v6M3104.6 2129v6M3281.2 2129v6M3479.8 2129v6M3678.4 2129v6M3876.9 2129v6M4053.5 2129v6M4252.1 2129v6M4428.6 2129v6M4627.2 2129v6" stroke="#434651" stroke-width="2" fill="none"/>
<g font-family="'Liberation Sans',sans-serif" font-size="24" fill="#484d5a" stroke="#484d5a" stroke-width="0.4">
<text x="4780.5" y="109.1" textLength="120.8" lengthAdjust="spacingAndGlyphs">6.20000000</text>
<text x="4780.5" y="174.2" textLength="120.8" lengthAdjust="spacingAndGlyphs">5.40000000</text>
<text x="4780.5" y="249.8" textLength="120.8" lengthAdjust="spacingAndGlyphs">4.60000000</text>
<text x="4780.5" y="315.6" textLength="120.8" lengthAdjust="spacingAndGlyphs">4.00000000</text>
<text x="4780.5" y="392.2" textLength="120.8" lengthAdjust="spacingAndGlyphs">3.40000000</text>
<text x="4780.5" y="467.2" textLength="120.8" lengthAdjust="spacingAndGlyphs">2.90000000</text>
<text x="4780.5" y="537.1" textLength="120.8" lengthAdjust="spacingAndGlyphs">2.50000000</text>
<text x="4780.5" y="597.4" textLength="120.8" lengthAdjust="spacingAndGlyphs">2.20000000</text>
<text x="4780.5" y="666.5" textLength="120.8" lengthAdjust="spacingAndGlyphs">1.90000000</text>
<text x="4780.5" y="747.4" textLength="120.8" lengthAdjust="spacingAndGlyphs">1.60000000</text>
<text x="4780.5" y="810.4" textLength="120.8" lengthAdjust="spacingAndGlyphs">1.40000000</text>
<text x="4780.5" y="883.0" textLength="120.8" lengthAdjust="spacingAndGlyphs">1.20000000</text>
<text x="4780.5" y="945.9" textLength="120.8" lengthAdjust="spacingAndGlyphs">1.05000000</text>
<text x="4780.5" y="1018.6" textLength="120.8" lengthAdjust="spacingAndGlyphs">0.90000000</text>
<text x="4780.5" y="1104.5" textLength="120.8" lengthAdjust="spacingAndGlyphs">0.75000000</text>
<text x="4780.5" y="1171.9" textLength="120.8" lengthAdjust="spacingAndGlyphs">0.65000000</text>
<text x="4780.5" y="1233.8" textLength="120.8" lengthAdjust="spacingAndGlyphs">0.57000000</text>
<text x="4780.5" y="1305.1" textLength="120.8" lengthAdjust="spacingAndGlyphs">0.49000000</text>
<text x="4780.5" y="1366.7" textLength="120.8" lengthAdjust="spacingAndGlyphs">0.43000000</text>
<text x="4780.5" y="1437.5" textLength="120.8" lengthAdjust="spacingAndGlyphs">0.37000000</text>
<text x="4780.5" y="1505.9" textLength="120.8" lengthAdjust="spacingAndGlyphs">0.32000000</text>
<text x="4780.5" y="1568.8" textLength="120.8" lengthAdjust="spacingAndGlyphs">0.28000000</text>
<text x="4780.5" y="1704.4" textLength="120.8" lengthAdjust="spacingAndGlyphs">0.21000000</text>
<text x="4780.5" y="1777.1" textLength="120.8" lengthAdjust="spacingAndGlyphs">0.18000000</text>
<text x="4780.5" y="1847.5" textLength="120.8" lengthAdjust="spacingAndGlyphs">0.15500000</text>
<text x="4780.5" y="1912.6" textLength="120.8" lengthAdjust="spacingAndGlyphs">0.13500000</text>
<text x="4780.5" y="1980.1" textLength="120.8" lengthAdjust="spacingAndGlyphs">0.11700000</text>
<text x="4780.5" y="2040.1" textLength="120.8" lengthAdjust="spacingAndGlyphs">0.10300000</text>
<text x="4780.5" y="2103.7" textLength="120.8" lengthAdjust="spacingAndGlyphs">0.09000000</text>
<clipPath id="tc"><rect x="14" y="2130" width="4749" height="56"/></clipPath><g clip-path="url(#tc)" text-anchor="middle">
<text x="15.4" y="2168.5">May</text>
<text x="214.0" y="2168.5">Jul</text>
<text x="412.6" y="2168.5">Sep</text>
<text x="611.2" y="2168.5">Nov</text>
<text x="787.7" y="2168.5" font-weight="bold">2018</text>
<text x="986.3" y="2168.5">Mar</text>
<text x="1184.9" y="2168.5">May</text>
<text x="1361.4" y="2168.5">Jul</text>
<text x="1560.0" y="2168.5">Sep</text>
<text x="1758.6" y="2168.5">Nov</text>
<text x="1957.2" y="2168.5" font-weight="bold">2019</text>
<text x="2133.7" y="2168.5">Mar</text>
<text x="2332.3" y="2168.5">May</text>
<text x="2508.9" y="2168.5">Jul</text>
<text x="2707.5" y="2168.5">Sep</text>
<text x="2906.0" y="2168.5">Nov</text>
<text x="3104.6" y="2168.5" font-weight="bold">2020</text>
<text x="3281.2" y="2168.5">Mar</text>
<text x="3479.8" y="2168.5">May</text>
<text x="3678.4" y="2168.5">Jul</text>
<text x="3876.9" y="2168.5">Sep</text>
<text x="4053.5" y="2168.5">Nov</text>
<text x="4252.1" y="2168.5" font-weight="bold">2021</text>
<text x="4428.6" y="2168.5">Mar</text>
<text x="4627.2" y="2168.5">May</text>
</g></g>
<rect x="4762.5" y="1620" width="157.5" height="36" fill="#ef5350"/>
<path d="M4762.5 1637.6h7.5" stroke="#fff" stroke-width="2"/>
<rect x="4837" y="1658.2" width="83" height="35.6" fill="#ef5350"/>
<g font-family="'Liberation Sans',sans-serif" font-size="24" fill="#fff" stroke="#fff" stroke-width="0.4"><text x="4780.5" y="1646.5" textLength="120.8" lengthAdjust="spacingAndGlyphs">0.23709560</text><text x="4845.6" y="1684.2" textLength="57" lengthAdjust="spacingAndGlyphs">6d 4h</text></g>
<g font-family="'Liberation Sans',sans-serif" font-size="25.2" fill="#131722">
<text x="12.8" y="32.6" textLength="147.0" lengthAdjust="spacingAndGlyphs" font-weight="bold">TonySpilotro</text>
<text x="168.5" y="32.6" textLength="748.8" lengthAdjust="spacingAndGlyphs">published on TradingView.com, September 07, 2020 16:14:41 EDT</text>
<text x="12.8" y="66.6" textLength="271.7" lengthAdjust="spacingAndGlyphs" font-weight="bold">POLONIEX:XRPUSD, 1W</text>
<text x="296.7" y="66.6" textLength="130.7" lengthAdjust="spacingAndGlyphs">0.23709560</text>
<path d="M434.8 49.5h20.2l-10.1 18.5z" fill="#ef5350"/>
<text x="464" y="66.6" textLength="251.0" lengthAdjust="spacingAndGlyphs">−0.00278717 (−1.16%)</text>
<text x="724" y="66.6" textLength="25.6" lengthAdjust="spacingAndGlyphs" font-weight="bold">O:</text>
<text x="753" y="66.6" textLength="131.7" lengthAdjust="spacingAndGlyphs" fill="#ef5350">0.24056018</text>
<text x="894.6" y="66.6" textLength="23.9" lengthAdjust="spacingAndGlyphs" font-weight="bold">H:</text>
<text x="922" y="66.6" textLength="131.0" lengthAdjust="spacingAndGlyphs" fill="#ef5350">0.24410469</text>
<text x="1063.5" y="66.6" textLength="17.5" lengthAdjust="spacingAndGlyphs" font-weight="bold">L:</text>
<text x="1084.4" y="66.6" textLength="132.3" lengthAdjust="spacingAndGlyphs" fill="#ef5350">0.22901840</text>
<text x="1226" y="66.6" textLength="20.4" lengthAdjust="spacingAndGlyphs" font-weight="bold">C:</text>
<text x="1250.4" y="66.6" textLength="132.2" lengthAdjust="spacingAndGlyphs" fill="#ef5350">0.23709560</text>
</g>
<g fill="#2196f3"><circle cx="21.5" cy="2229.5" r="9.4"/><circle cx="34" cy="2220.7" r="12.1"/><circle cx="52.6" cy="2227.7" r="11.3"/><rect x="21.5" y="2226" width="31" height="12.9"/></g>
<path d="M11.5 2236.4L31.7 2220.5L44.3 2231.5L58.8 2217" fill="none" stroke="#fff" stroke-width="1.9"/><circle cx="31.7" cy="2220.7" r="3.9" fill="#fff"/><circle cx="44.3" cy="2231.5" r="3.9" fill="#fff"/>
<text x="68.5" y="2231.2" font-family="'Liberation Sans',sans-serif" font-size="25.3" fill="#131722" textLength="140.7" lengthAdjust="spacingAndGlyphs">TradingView</text>
</svg></body></html>
